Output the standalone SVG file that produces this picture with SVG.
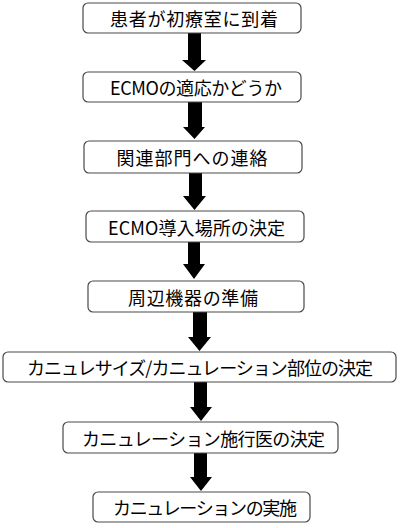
<svg xmlns="http://www.w3.org/2000/svg" width="400" height="528" viewBox="0 0 400 528">
<style>
.box{fill:#fff;stroke:#4a4a4a;stroke-width:1.2}
.t{font-family:"Noto Sans CJK JP",sans-serif;font-size:18px;fill:#000;text-anchor:middle;dominant-baseline:central}
.arr{fill:#000}
</style>
<rect width="400" height="528" fill="#fff"/>
<g id="connectors">
<polygon class="arr" points="188,33 201,33 201,60 206,60 194.5,71 182,60 188,60"/>
<polygon class="arr" points="188,102 202,102 202,127 205,127 194.5,139 183,127 188,127"/>
<polygon class="arr" points="189,173 202,173 202,196 206,196 194.5,210 183,196 189,196"/>
<polygon class="arr" points="188,242 200,242 200,264 205,264 194,279 183,264 188,264"/>
<polygon class="arr" points="193,312 207,312 207,337 211,337 199.5,351 188,337 193,337"/>
<polygon class="arr" points="194,382 207,382 207,407 212,407 201,421 190,407 194,407"/>
<polygon class="arr" points="194,453 207,453 207,477 212,477 201,491 190,477 194,477"/>
</g>
<g id="n1"><rect class="box" x="83" y="3" width="218" height="30" rx="5"/><text class="t" x="194" y="18" textLength="168" lengthAdjust="spacing">患者が初療室に到着</text></g>
<g id="n2"><rect class="box" x="83" y="72" width="218" height="30" rx="5"/><text class="t" x="196" y="87" textLength="172" lengthAdjust="spacing">ECMOの適応かどうか</text></g>
<g id="n3"><rect class="box" x="84" y="141" width="218" height="32" rx="5"/><text class="t" x="192" y="157" textLength="151" lengthAdjust="spacing">関連部門への連絡</text></g>
<g id="n4"><rect class="box" x="86" y="211" width="218" height="31" rx="5"/><text class="t" x="196.5" y="226.5" textLength="177" lengthAdjust="spacing">ECMO導入場所の決定</text></g>
<g id="n5"><rect class="box" x="88" y="281" width="216" height="31" rx="5"/><text class="t" x="193" y="296.5" textLength="130" lengthAdjust="spacing">周辺機器の準備</text></g>
<g id="n6"><rect class="box" x="3" y="352" width="393" height="30" rx="5"/><text class="t" x="200" y="367" textLength="346" lengthAdjust="spacing">カニュレサイズ/カニュレーション部位の決定</text></g>
<g id="n7"><rect class="box" x="63" y="422" width="275" height="31" rx="5"/><text class="t" x="203.5" y="437.5" textLength="243" lengthAdjust="spacing">カニュレーション施行医の決定</text></g>
<g id="n8"><rect class="box" x="93" y="492" width="217" height="30" rx="5"/><text class="t" x="205" y="507" textLength="184" lengthAdjust="spacing">カニュレーションの実施</text></g>
</svg>
